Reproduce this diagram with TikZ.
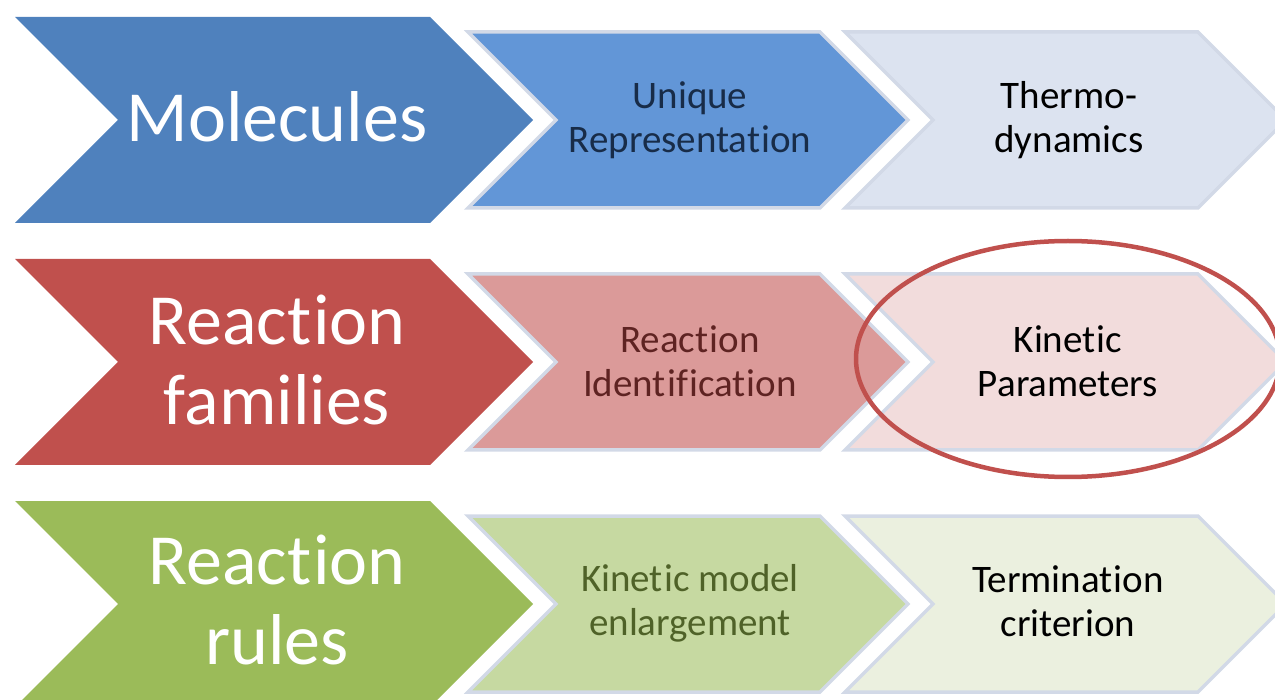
\documentclass[tikz,border=0pt]{standalone}
\usepackage{fontspec}
\setmainfont{Carlito}[Ligatures={NoCommon,NoRequired,NoContextual}]
\newcommand\mybrk{\kern0.03em}
\definecolor{blueA}{HTML}{4F81BD}
\definecolor{blueB}{HTML}{6296D7}
\definecolor{blueC}{HTML}{DCE3F0}
\definecolor{blueT}{HTML}{182C48}
\definecolor{redA}{HTML}{C0504D}
\definecolor{redB}{HTML}{DB9A99}
\definecolor{redC}{HTML}{F2DCDC}
\definecolor{redT}{HTML}{5E2322}
\definecolor{greenA}{HTML}{9BBB59}
\definecolor{greenB}{HTML}{C6D9A1}
\definecolor{greenC}{HTML}{EBF0DF}
\definecolor{greenT}{HTML}{4F6228}
\definecolor{rim}{HTML}{D2D9E7}
\newcommand\mychev[5]{% style, left x, right x, centre y, half height
  \path[#1] (#2,#4-#5) -- (#3,#4-#5) -- (#3+#5,#4) -- (#3,#4+#5) -- (#2,#4+#5) -- (#2+#5,#4) -- cycle;}
\tikzset{
  bigchev/.style={fill=#1},
  smallchev/.style={fill=#1, draw=rim, line width=3.5pt, line join=miter},
  bigtxt/.style={text=white, font=\fontsize{72}{80}\selectfont, align=center, inner sep=0pt},
  smalltxt/.style={text=#1, font=\fontsize{39}{44}\selectfont, align=center, inner sep=0pt},
  ring/.style={draw=redA, line width=4.5pt}
}
\begin{document}
\begin{tikzpicture}[x=1pt,y=-1pt]
\useasboundingbox (0,0) rectangle (1275,700);
\clip (0,0) rectangle (1275,700);
% row 1
\mychev{bigchev=blueA}{15}{430}{120}{103}
\mychev{smallchev=blueB}{468}{820}{120}{88}
\mychev{smallchev=blueC}{845}{1198}{120}{88}
\node[bigtxt] (mol) at (277,117) {Molecules};
\node[smalltxt=blueT] (uni) at (690,120) {Unique\\Representat\mybrk ion};
\node[smalltxt=black] (thd) at (1069,120) {Thermo-\\dynamics};
% row 2
\mychev{bigchev=redA}{15}{430}{362}{103}
\mychev{smallchev=redB}{468}{820}{362}{88}
\mychev{smallchev=redC}{845}{1198}{362}{88}
\node[bigtxt] (rfa) at (277,360) {React\mybrk ion\\families};
\node[smalltxt=redT] (rid) at (690,361) {React\mybrk ion\\Ident\mybrk if\mybrk icat\mybrk ion};
\node[smalltxt=black] (kin) at (1068,361) {Kinet\mybrk ic\\Parameters};
% row 3
\mychev{bigchev=greenA}{15}{430}{604}{103}
\mychev{smallchev=greenB}{468}{820}{604}{88}
\mychev{smallchev=greenC}{845}{1198}{604}{88}
\node[bigtxt] (rru) at (277,600) {React\mybrk ion\\rules};
\node[smalltxt=greenT] (kme) at (690,603) {Kinet\mybrk ic model\\enlargement};
\node[smalltxt=black] (ter) at (1068,601) {Terminat\mybrk ion\\criterion};
% highlight
\draw[ring] (1068,359) ellipse [x radius=212, y radius=118];
\end{tikzpicture}
\end{document}
